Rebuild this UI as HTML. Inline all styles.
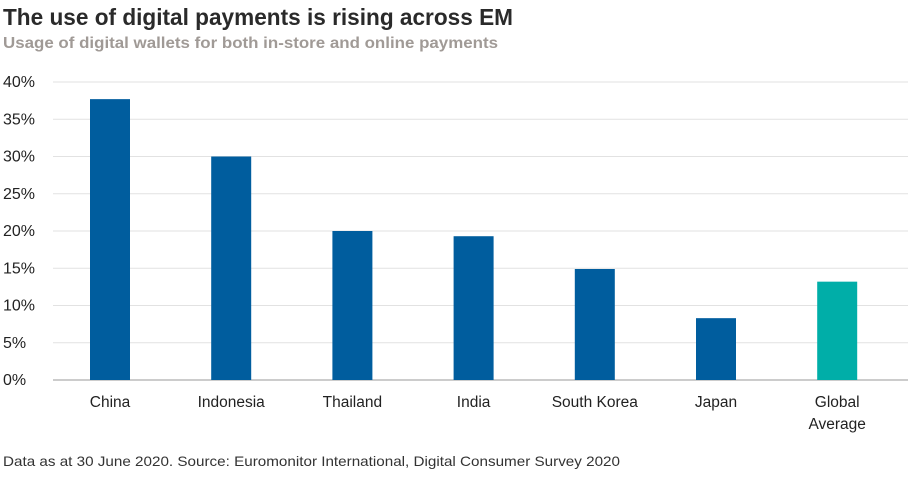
<!DOCTYPE html>
<html><head><meta charset="utf-8"><style>
body{margin:0;background:#fff;width:916px;height:480px;overflow:hidden;font-family:"Liberation Sans",sans-serif}
</style></head><body>
<svg width="916" height="480" xmlns="http://www.w3.org/2000/svg" font-family="Liberation Sans, sans-serif">
<text x="3" y="25" font-size="23" font-weight="bold" fill="#2a2a2a" textLength="510" lengthAdjust="spacingAndGlyphs">The use of digital payments is rising across EM</text>
<text x="3" y="48" font-size="15.5" font-weight="bold" fill="#a09a96" textLength="495" lengthAdjust="spacingAndGlyphs">Usage of digital wallets for both in-store and online payments</text>
<g id="grid"></g><g id="bars"></g><g id="xl"></g>
<text x="3" y="466" font-size="14" fill="#333" textLength="617" lengthAdjust="spacingAndGlyphs">Data as at 30 June 2020. Source: Euromonitor International, Digital Consumer Survey 2020</text>
</svg>
<script>
const categories=[["China"],["Indonesia"],["Thailand"],["India"],["South Korea"],["Japan"],["Global","Average"]];
const values=[37.7,30.0,20.0,19.3,14.9,8.3,13.2];
const colors=["#005d9e","#005d9e","#005d9e","#005d9e","#005d9e","#005d9e","#00aea8"];
const ticks=[0,5,10,15,20,25,30,35,40];
const NS="http://www.w3.org/2000/svg";
const y0=380,y40=82,x0=49.4,band=121.2,bw=40;
const y=v=>y0-(v/40)*(y0-y40);
const x=i=>x0+band*(i+0.5);
function mk(t,a,p){const e=document.createElementNS(NS,t);for(const k in a)e.setAttribute(k,a[k]);p.appendChild(e);return e;}
const g=document.getElementById('grid');
ticks.forEach(t=>{
 const l=mk('line',{x1:53,x2:908,y1:y(t),y2:y(t),stroke:t===0?'#999':'#e2e2e2','stroke-width':1},g);
 
 
 const tx=mk('text',{x:3,y:y(t)+5,'font-size':16,fill:'#222'},g);
 tx.textContent=t+'%';
 
 
});
const b=document.getElementById('bars'),xl=document.getElementById('xl');
values.forEach((v,i)=>{
 const r=mk('rect',{x:x(i)-bw/2,y:y(v),width:bw,height:y0-y(v),fill:colors[i]},b);
 
 
 categories[i].forEach((s,j)=>{
  const t=mk('text',{x:x(i),y:407+j*22,'font-size':15.5,fill:'#222','text-anchor':'middle'},xl);
  t.textContent=s;
  
  
 });
});
</script>
</body></html>
